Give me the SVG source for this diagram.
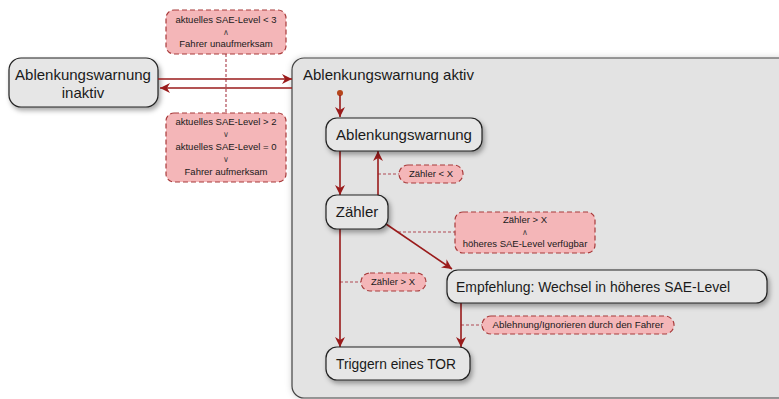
<svg xmlns="http://www.w3.org/2000/svg" width="779" height="399" viewBox="0 0 779 399">
<defs>
<filter id="sh" x="-20%" y="-30%" width="140%" height="170%">
<feDropShadow dx="2" dy="3" stdDeviation="2.5" flood-color="#000" flood-opacity="0.35"/>
</filter>
<filter id="sh2" x="-5%" y="-5%" width="110%" height="110%">
<feDropShadow dx="0" dy="0" stdDeviation="3" flood-color="#000" flood-opacity="0.18"/>
</filter>
<marker id="ah" viewBox="0 0 10 10" refX="10" refY="5" markerWidth="10" markerHeight="10" markerUnits="userSpaceOnUse" orient="auto">
<path d="M0,0 L10,5 L0,10 L3,5 Z" fill="#9a1b1b"/>
</marker>
<style>
.node{fill:#e6e6e6;stroke:#222;stroke-width:1.2;filter:url(#sh)}
.lbl{fill:#f4b6b8;stroke:#a83a3a;stroke-width:1.2;stroke-dasharray:5 3}
.t{font-family:"Liberation Sans",Arial,sans-serif;fill:#1a1a1a}
.big{font-size:15px}
.sm{font-size:9.5px;text-anchor:middle}
.op{font-size:8px;text-anchor:middle;fill:#444}
.edge{stroke:#9a1b1b;stroke-width:1.6;fill:none;marker-end:url(#ah)}
.dot{stroke:#b04a55;stroke-width:1.2;stroke-dasharray:3 2;fill:none}
</style>
</defs>
<rect width="779" height="399" fill="#ffffff"/>

<g id="aktiv">
<rect x="292" y="58" width="500" height="340" rx="12" fill="#e3e3e3" stroke="#444" stroke-width="1.2" filter="url(#sh2)"/>
<text class="t" x="303" y="80" font-size="15">Ablenkungswarnung aktiv</text>
</g>

<g id="inaktiv">
<rect class="node" x="9" y="58" width="149" height="49" rx="12"/>
<text class="t big" x="83" y="80" text-anchor="middle" font-size="16">Ablenkungswarnung</text>
<text class="t big" x="83" y="98" text-anchor="middle" font-size="16">inaktiv</text>
</g>

<g id="connectors">
<line class="dot" x1="226" y1="54" x2="226" y2="113"/>
<line class="dot" x1="378" y1="174" x2="399" y2="174"/>
<line class="dot" x1="398" y1="232" x2="455" y2="232"/>
<line class="dot" x1="340" y1="282" x2="361" y2="282"/>
<line class="dot" x1="461" y1="325" x2="482" y2="325"/>
<line class="edge" x1="158" y1="79" x2="292" y2="79"/>
<line class="edge" x1="292" y1="88" x2="160" y2="88"/>
<circle cx="340" cy="93" r="3" fill="#b5451b"/>
<line class="edge" x1="340" y1="95" x2="340" y2="117"/>
<line class="edge" x1="340" y1="151" x2="340" y2="195"/>
<line class="edge" x1="378" y1="195" x2="378" y2="151"/>
<line class="edge" x1="340" y1="229" x2="340" y2="347"/>
<line class="edge" x1="386" y1="224" x2="452" y2="269"/>
<line class="edge" x1="461" y1="303" x2="461" y2="347"/>
</g>

<g id="lbl-top">
<rect class="lbl" x="166" y="10" width="120" height="44" rx="8"/>
<text class="t sm" x="226" y="23">aktuelles SAE-Level &lt; 3</text>
<text class="t op" x="226" y="35">∧</text>
<text class="t sm" x="226" y="47">Fahrer unaufmerksam</text>
</g>

<g id="lbl-bottom">
<rect class="lbl" x="166" y="113" width="120" height="69" rx="8"/>
<text class="t sm" x="226" y="125">aktuelles SAE-Level &gt; 2</text>
<text class="t op" x="226" y="137">∨</text>
<text class="t sm" x="226" y="150">aktuelles SAE-Level = 0</text>
<text class="t op" x="226" y="162">∨</text>
<text class="t sm" x="226" y="175">Fahrer aufmerksam</text>
</g>

<g id="n-warnung">
<rect class="node" x="326" y="118" width="156" height="33" rx="11"/>
<text class="t big" x="404" y="140" text-anchor="middle">Ablenkungswarnung</text>
</g>

<g id="n-zaehler">
<rect class="node" x="326" y="195" width="62" height="34" rx="11"/>
<text class="t big" x="357" y="217" text-anchor="middle">Zähler</text>
</g>

<g id="n-tor">
<rect class="node" x="326" y="347" width="144" height="33" rx="11"/>
<text class="t big" x="336" y="369" textLength="120" lengthAdjust="spacingAndGlyphs">Triggern eines TOR</text>
</g>

<g id="n-empf">
<rect class="node" x="447" y="270" width="320" height="33" rx="11"/>
<text class="t big" x="456" y="292" textLength="274" lengthAdjust="spacingAndGlyphs">Empfehlung: Wechsel in höheres SAE-Level</text>
</g>

<g id="lbl-zlt">
<rect class="lbl" x="399" y="165" width="64" height="18" rx="9"/>
<text class="t sm" x="431" y="177">Zähler &lt; X</text>
</g>

<g id="lbl-zgt-hoeher">
<rect class="lbl" x="455" y="212" width="140" height="41" rx="8"/>
<text class="t sm" x="525" y="223">Zähler &gt; X</text>
<text class="t op" x="525" y="235">∧</text>
<text class="t sm" x="525" y="247">höheres SAE-Level verfügbar</text>
</g>

<g id="lbl-zgt">
<rect class="lbl" x="361" y="273" width="65" height="18" rx="9"/>
<text class="t sm" x="393" y="285">Zähler &gt; X</text>
</g>

<g id="lbl-ablehnung">
<rect class="lbl" x="482" y="316" width="192" height="18" rx="9"/>
<text class="t sm" x="578" y="328" textLength="171" lengthAdjust="spacingAndGlyphs">Ablehnung/Ignorieren durch den Fahrer</text>
</g>
</svg>
